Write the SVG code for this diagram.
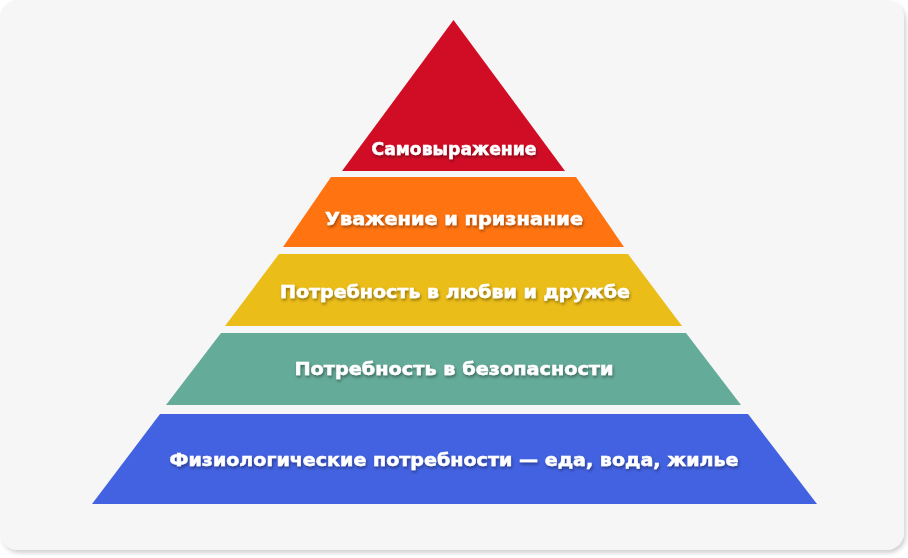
<svg xmlns="http://www.w3.org/2000/svg" width="908" height="558" viewBox="0 0 908 558">
  <defs>
    <filter id="cardShadow" x="-5%" y="-5%" width="110%" height="110%">
      <feDropShadow dx="2" dy="3" stdDeviation="2" flood-color="#000" flood-opacity="0.18"/>
    </filter>
    <filter id="txtShadow" x="-10%" y="-50%" width="120%" height="200%">
      <feDropShadow dx="1" dy="2" stdDeviation="1.5" flood-color="#000" flood-opacity="0.4"/>
    </filter>
  </defs>
  <style>
    .lbl { font-family: "DejaVu Sans", "Open Sans", sans-serif; font-weight: bold; font-size: 18px; fill: #ffffff; stroke: #ffffff; stroke-width: 0.5px; text-anchor: middle; filter: url(#txtShadow); }
  </style>
  <rect x="0" y="0" width="904" height="550" rx="18" fill="#f6f6f6" filter="url(#cardShadow)"/>
  <g id="level5">
    <polygon points="453.5,20 565,171 342,171" fill="#d10d26"/>
    <text class="lbl" x="454" y="155" textLength="165" lengthAdjust="spacingAndGlyphs">Самовыражение</text>
  </g>
  <g id="level4">
    <polygon points="331,177 576,177 624,247 283,247" fill="#ff7411"/>
    <text class="lbl" x="454" y="225" textLength="258" lengthAdjust="spacingAndGlyphs">Уважение и признание</text>
  </g>
  <g id="level3">
    <polygon points="279,254 628,254 682,326 225,326" fill="#ebbd19"/>
    <text class="lbl" x="455" y="298" textLength="350" lengthAdjust="spacingAndGlyphs">Потребность в любви и дружбе</text>
  </g>
  <g id="level2">
    <polygon points="221,333 686,333 741,405 166,405" fill="#65ab9a"/>
    <text class="lbl" x="454" y="375" textLength="319" lengthAdjust="spacingAndGlyphs">Потребность в безопасности</text>
  </g>
  <g id="level1">
    <polygon points="160,414 748,414 817,504 92,504" fill="#4362e1"/>
    <text class="lbl" x="454" y="466" textLength="569" lengthAdjust="spacingAndGlyphs">Физиологические потребности — еда, вода, жилье</text>
  </g>
  <g id="connectors"/>
</svg>
